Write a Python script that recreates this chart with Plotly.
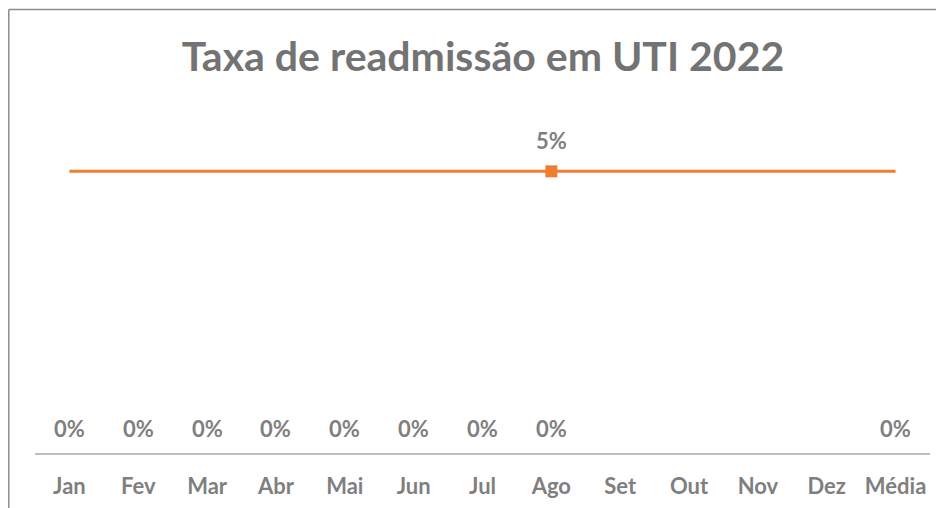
import plotly.graph_objects as go

categories = ["Jan", "Fev", "Mar", "Abr", "Mai", "Jun", "Jul", "Ago", "Set", "Out", "Nov", "Dez", "Média"]
meta_values = [0.05, 0.05, 0.05, 0.05, 0.05, 0.05, 0.05, 0.05, 0.05, 0.05, 0.05, 0.05, 0.05]
meta_label_month = "Ago"
taxa_categories = ["Jan", "Fev", "Mar", "Abr", "Mai", "Jun", "Jul", "Ago", "Média"]
taxa_values = [0, 0, 0, 0, 0, 0, 0, 0, 0]

ORANGE = "#ED7D31"
GRAY = "#7F7F7F"
FONT = "Lato"
LABEL_FONT = dict(family=FONT, size=22, color=GRAY)

fig = go.Figure()

# Target line
fig.add_trace(go.Scatter(
    x=categories, y=meta_values, mode="lines",
    line=dict(color=ORANGE, width=3), hoverinfo="skip", showlegend=False))

# Marker at the labelled month
idx = categories.index(meta_label_month)
fig.add_trace(go.Scatter(
    x=[categories[idx]], y=[meta_values[idx]], mode="markers",
    marker=dict(color=ORANGE, size=12, symbol="square"),
    showlegend=False))

# Zero-rate series (invisible points, labels via annotations)
fig.add_trace(go.Scatter(
    x=taxa_categories, y=taxa_values, mode="markers",
    marker=dict(size=1, opacity=0), hoverinfo="x+y", showlegend=False))

annotations = []
annotations.append(dict(x=categories[idx], y=meta_values[idx], xref="x", yref="y",
                        text=f"<b>{meta_values[idx]*100:.0f}%</b>", showarrow=False,
                        yanchor="middle", yshift=31, font=LABEL_FONT))
for c, v in zip(taxa_categories, taxa_values):
    annotations.append(dict(x=c, y=v, xref="x", yref="y", text=f"<b>{v*100:.0f}%</b>",
                            showarrow=False, yanchor="middle", yshift=25, font=LABEL_FONT))

# page is offset by 8px (body margin); positions below are in figure coords
W, H = 944, 508
L, R, T, B = 27, 22, 107, 63
pw, ph = W - L - R, H - T - B
bx = (0.8 - L) / pw
by = (H - B - 1.5) / ph

fig.update_layout(
    width=W, height=H,
    margin=dict(l=L, r=R, t=T, b=B),
    paper_bgcolor="white", plot_bgcolor="white",
    title=dict(text="<b>Taxa de readmissão em UTI 2022</b>", x=475 / W, xanchor="center",
               y=1 - 49 / H, yanchor="middle",
               font=dict(family=FONT, size=41, color="#737373")),
    xaxis=dict(categoryorder="array", categoryarray=categories, range=[-0.5, len(categories) - 0.5],
               showline=True, linecolor="#BFBFBF", linewidth=2, showgrid=False, ticks="",
               tickfont=LABEL_FONT, ticklabelstandoff=13,
               tickvals=categories, ticktext=[f"<b>{c}</b>" for c in categories],
               zeroline=False, fixedrange=True),
    yaxis=dict(range=[0, 0.06], visible=False, showgrid=False, zeroline=False),
    annotations=annotations,
    shapes=[
        dict(type="line", xref="paper", yref="paper", x0=bx, x1=bx, y0=by, y1=-0.3,
             line=dict(color="#8C8C8C", width=1.5)),
        dict(type="line", xref="paper", yref="paper", x0=bx, x1=1.1, y0=by, y1=by,
             line=dict(color="#8C8C8C", width=1.5)),
    ],
)

fig.write_html("out.html")
